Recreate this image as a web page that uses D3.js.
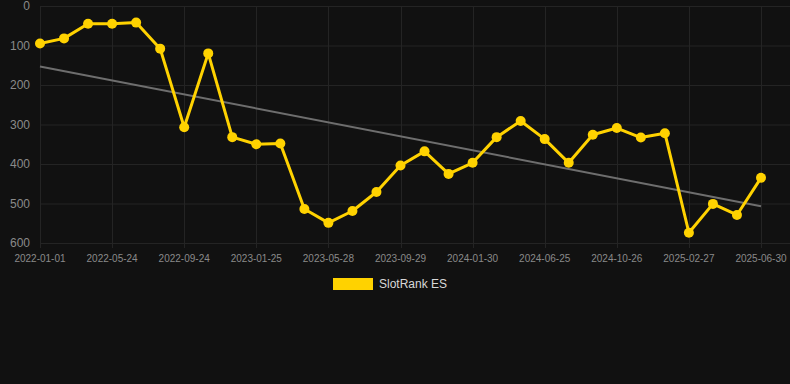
<!DOCTYPE html>
<html>
<head>
<meta charset="utf-8">
<script src="https://cdn.jsdelivr.net/npm/d3@7"></script>
<style>
  body { margin: 0; background: #111111; }
  svg { display: block; font-family: "Liberation Sans", Arial, sans-serif; }
</style>
</head>
<body>
<div id="chart"></div>
<script>
// dates, one point every ~41 days; only every third one gets a label
var dates = [
  "2022-01-01", "2022-02-18", "2022-04-06", "2022-05-24", "2022-07-04", "2022-08-14",
  "2022-09-24", "2022-11-04", "2022-12-15", "2023-01-25", "2023-03-07", "2023-04-17",
  "2023-05-28", "2023-07-09", "2023-08-19", "2023-09-29", "2023-11-09", "2023-12-20",
  "2024-01-30", "2024-03-18", "2024-05-06", "2024-06-25", "2024-08-05", "2024-09-15",
  "2024-10-26", "2024-12-06", "2025-01-16", "2025-02-27", "2025-04-09", "2025-05-20",
  "2025-06-30"
];
var rankValues = [
  95, 82, 45, 45, 42, 108, 307, 120, 332, 350, 348, 514,
  549, 519, 471, 404, 368, 425, 397, 332, 291, 337, 397, 326,
  309, 333, 322, 574, 501, 529, 435
];
// trend line, start and end value
var trendValues = [153, 507];
var yTicks = [0, 100, 200, 300, 400, 500, 600];
var seriesName = "SlotRank ES";

var width = 790, height = 384;
var margin = {top: 6, left: 40, right: 29, bottom: 141};

var svg = d3.select("#chart").append("svg")
    .attr("width", width)
    .attr("height", height);

var x = d3.scalePoint()
    .domain(dates)
    .range([margin.left, width - margin.right]);

var y = d3.scaleLinear()
    .domain([0, 600])
    .range([margin.top, height - margin.bottom]);

var labelDates = dates.filter(function(d, i){ return i % 3 == 0; });

//grid lines
svg.append("g").selectAll("line").data(yTicks).enter().append("line")
    .attr("x1", margin.left)
    .attr("x2", width)
    .attr("y1", function(d){ return y(d) + 0.5; })
    .attr("y2", function(d){ return y(d) + 0.5; })
    .attr("stroke", "#242424")
    .attr("stroke-width", 1);

svg.append("g").selectAll("line").data(labelDates).enter().append("line")
    .attr("x1", function(d){ return Math.round(x(d)) + 0.5; })
    .attr("x2", function(d){ return Math.round(x(d)) + 0.5; })
    .attr("y1", margin.top)
    .attr("y2", y(600) + 5)
    .attr("stroke", "#242424")
    .attr("stroke-width", 1);

//y labels
svg.append("g").selectAll("text").data(yTicks).enter().append("text")
    .attr("x", 30)
    .attr("y", function(d){ return y(d); })
    .attr("dy", "0.35em")
    .attr("text-anchor", "end")
    .attr("fill", "#8a8a8a")
    .style("font-size", "12px")
    .text(function(d){ return d; });

//x labels
svg.append("g").selectAll("text").data(labelDates).enter().append("text")
    .attr("x", function(d){ return x(d); })
    .attr("y", 262)
    .attr("text-anchor", "middle")
    .attr("fill", "#8a8a8a")
    .style("font-size", "10px")
    .text(function(d){ return d; });

//trend line
svg.append("line")
    .attr("x1", x(dates[0]))
    .attr("y1", y(trendValues[0]))
    .attr("x2", x(dates[dates.length - 1]))
    .attr("y2", y(trendValues[1]))
    .attr("stroke", "#6e6e6e")
    .attr("stroke-width", 2);

//rank line
var line = d3.line()
    .x(function(d, i){ return x(dates[i]); })
    .y(function(d){ return y(d); });

svg.append("path")
    .datum(rankValues)
    .attr("d", line)
    .attr("fill", "none")
    .attr("stroke", "#ffd200")
    .attr("stroke-width", 3)
    .attr("stroke-linejoin", "round");

svg.append("g").selectAll("circle").data(rankValues).enter().append("circle")
    .attr("cx", function(d, i){ return x(dates[i]); })
    .attr("cy", function(d){ return y(d); })
    .attr("r", 5)
    .attr("fill", "#ffd200");

//legend
svg.append("rect")
    .attr("x", 333)
    .attr("y", 278)
    .attr("width", 40)
    .attr("height", 12)
    .attr("fill", "#ffd200");

svg.append("text")
    .attr("x", 379)
    .attr("y", 284)
    .attr("dy", "0.35em")
    .attr("fill", "#d8d8d8")
    .style("font-size", "12px")
    .text(seriesName);
</script>
</body>
</html>
